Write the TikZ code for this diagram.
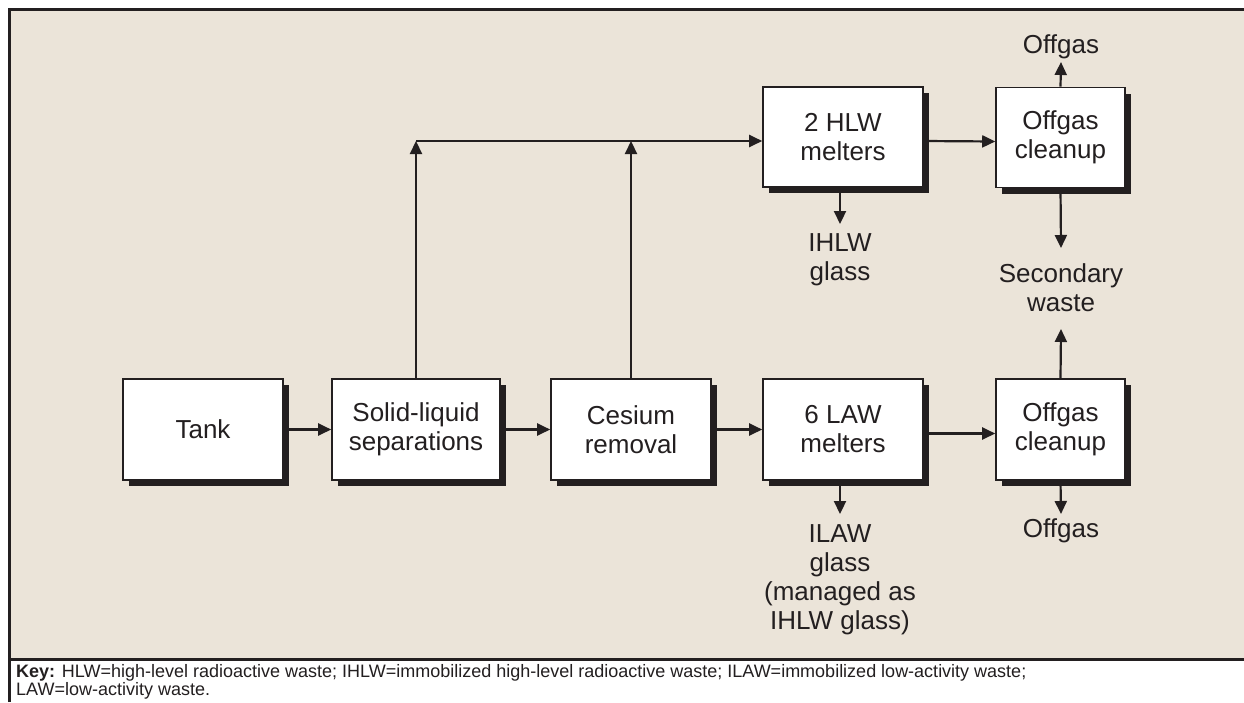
\documentclass[tikz,border=0pt]{standalone}
\usepackage{fontspec}
\setmainfont{Liberation Sans}
\usetikzlibrary{arrows.meta,shadows,calc}
\definecolor{bg}{HTML}{EBE4D9}
\definecolor{ink}{HTML}{231F20}
\tikzset{
  box/.style={draw=ink, line width=1.6pt, fill=white, align=center, text=ink,
    font=\fontsize{26}{29}\selectfont, inner sep=0pt,
    general shadow={fill=ink, shadow xshift=6pt, shadow yshift=-6pt}},
  lbl/.style={align=center, font=\fontsize{26}{29}\selectfont, inner sep=0pt, text=ink, anchor=north},
  arr/.style={draw=ink, line width=2.2pt, -{Triangle[length=13pt,width=12pt]}},
  frameline/.style={draw=ink, line width=3pt}
}
\begin{document}
\begin{tikzpicture}[x=1pt,y=-1pt]
\useasboundingbox (0,0) rectangle (1244,702);
\fill[white] (0,0) rectangle (1244,702);
\fill[bg] (9,9) rectangle (1244,659);
\draw[frameline] (9,702) -- (9,9) -- (1244,9);
\draw[frameline] (9,659) -- (1244,659);

% boxes
\node[box, minimum width=160pt, minimum height=101pt] (tank) at (203,429.5) {Tank};
\node[box, minimum width=168pt, minimum height=101pt] (sl) at (416,429.5) {Solid-liquid\\separations};
\node[box, minimum width=160pt, minimum height=101pt] (cs) at (631,429.5) {Cesium\\removal};
\node[box, minimum width=160pt, minimum height=101pt] (law) at (843,429.5) {6 LAW\\melters};
\node[box, minimum width=129pt, minimum height=101pt] (og2) at (1060.5,429.5) {Offgas\\cleanup};
\node[box, minimum width=160pt, minimum height=100pt] (hlw) at (843,137) {2 HLW\\melters};
\node[box, minimum width=129pt, minimum height=100pt] (og1) at (1060.5,137.5) {Offgas\\cleanup};

% labels
\node[lbl] (offtop) at (1061,34) {Offgas};
\node[lbl] (ihlw) at (840,233) {IHLW\\glass};
\node[lbl] (sw) at (1061,263) {Secondary\\waste};
\node[lbl] (ilaw) at (840,524) {ILAW\\glass\\(managed as\\IHLW glass)};
\node[lbl] (offbot) at (1061,518) {Offgas};

% arrow tips / junctions
\coordinate (j1) at (416,141);
\coordinate (j2) at (631,141);
\coordinate (tOfftop) at (1061,62);
\coordinate (tIhlw) at (840,224);
\coordinate (tSwDown) at (1061,248);
\coordinate (tSwUp) at (1061,329);
\coordinate (tIlaw) at (840,514);
\coordinate (tOffbot) at (1061,514);

% main flow
\draw[arr] (tank.east) -- (sl.west);
\draw[arr] (sl.east) -- (cs.west);
\draw[arr] (cs.east) -- (law.west);
\draw[arr] ([yshift=-4pt]law.east) -- ([yshift=-4pt]og2.west);
\draw[arr] ([yshift=-4pt]hlw.east) -- ([yshift=-4pt]og1.west);

% up branches
\draw[arr] (sl.north) -- (j1);
\draw[arr] (cs.north) -- (j2);
\draw[arr] (j1) -- (hlw.west |- j1);

% outputs
\draw[arr] (og1.north) -- (tOfftop);
\draw[arr] (og1.south) -- (tSwDown);
\draw[arr] (og2.north) -- (tSwUp);
\draw[arr] (og2.south) -- (tOffbot);
\draw[arr] (hlw.south -| tIhlw) -- (tIhlw);
\draw[arr] (law.south -| tIlaw) -- (tIlaw);

% key
\node[anchor=north west, inner sep=0pt, align=left, text=ink,
      font=\fontsize{18}{18}\selectfont] (key) at (16,664)
  {\textbf{Key:} HLW=high-level radioactive waste; IHLW=immobilized high-level radioactive waste; ILAW=immobilized low-activity waste;\\
   LAW=low-activity waste.};
\end{tikzpicture}
\end{document}
